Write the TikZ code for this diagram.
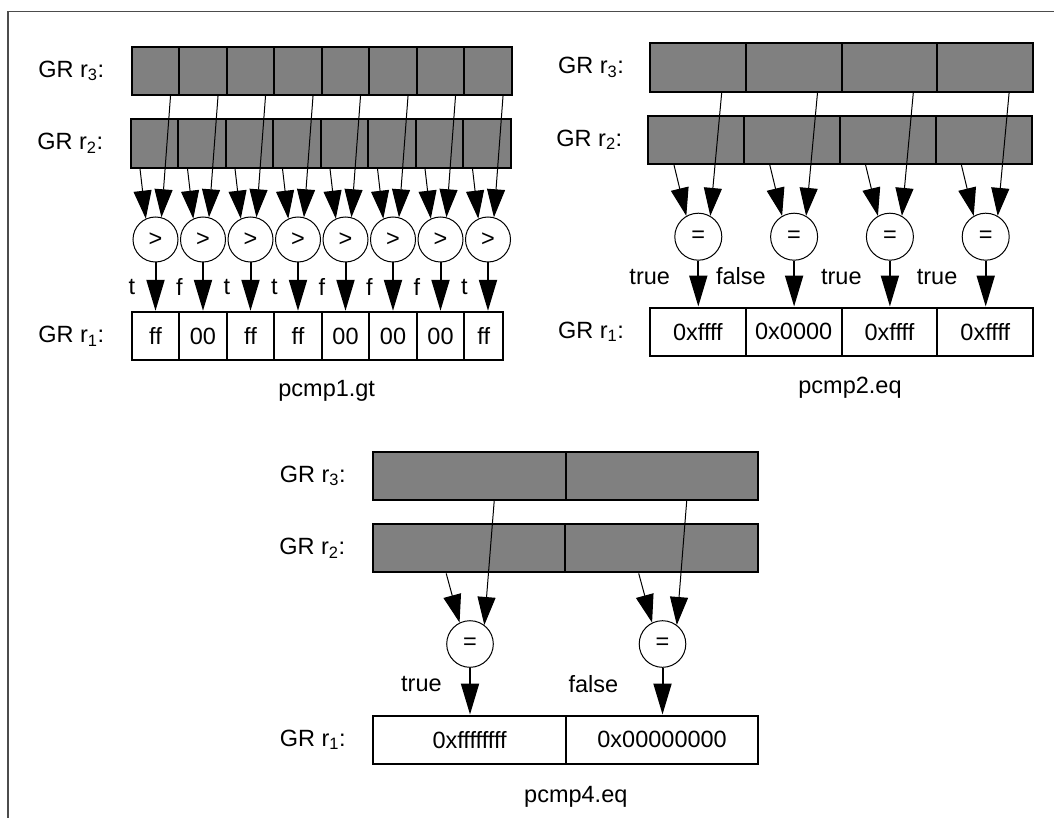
\documentclass[tikz,border=0pt]{standalone}
\usepackage{fontspec}
\setmainfont{Liberation Sans}
\usetikzlibrary{arrows.meta}
\usetikzlibrary{positioning}

\begin{document}
\begin{tikzpicture}[x=1pt, y=-1pt, >={Triangle[length=28pt,width=18pt]}, font=\fontsize{23.5}{28}\selectfont]
    \tikzstyle{reg}=[draw=black,line width=2pt,fill=gray,inner sep=0pt,minimum height=48.4pt]
    \tikzstyle{res}=[reg,fill=white]
    \tikzstyle{cmp}=[circle,draw=black,line width=1pt,fill=white,inner sep=0pt,minimum size=45pt]
    \tikzstyle{lab}=[inner sep=0pt]
    \tikzstyle{feed}=[->,line width=1pt]
    \tikzstyle{wr}=[-{Triangle[length=31pt,width=18pt]},line width=2pt]
    \useasboundingbox (0,0) rectangle (1054,818);
    \draw[black!70,line width=1.5pt] (8,818) -- (8,11.5) -- (1054,11.5);

    % pcmp1.gt
    \begin{scope}[node distance=47.5pt, reg/.append style={minimum width=47.5pt}]
    \node[reg]  (A3_0) at (155.5,71)    {};
    \node[reg]  (A3_1) [right of=A3_0]  {};
    \node[reg]  (A3_2) [right of=A3_1]  {};
    \node[reg]  (A3_3) [right of=A3_2]  {};
    \node[reg]  (A3_4) [right of=A3_3]  {};
    \node[reg]  (A3_5) [right of=A3_4]  {};
    \node[reg]  (A3_6) [right of=A3_5]  {};
    \node[reg]  (A3_7) [right of=A3_6]  {};
    \node[reg]  (A2_0) [below of=A3_0,node distance=72.5pt,xshift=-1pt] {};
    \node[reg]  (A2_1) [right of=A2_0]  {};
    \node[reg]  (A2_2) [right of=A2_1]  {};
    \node[reg]  (A2_3) [right of=A2_2]  {};
    \node[reg]  (A2_4) [right of=A2_3]  {};
    \node[reg]  (A2_5) [right of=A2_4]  {};
    \node[reg]  (A2_6) [right of=A2_5]  {};
    \node[reg]  (A2_7) [right of=A2_6]  {};
    \node[cmp]  (Ac_0) [below of=A2_0,node distance=96pt,xshift=1pt] {>};
    \node[cmp]  (Ac_1) [right of=Ac_0]  {>};
    \node[cmp]  (Ac_2) [right of=Ac_1]  {>};
    \node[cmp]  (Ac_3) [right of=Ac_2]  {>};
    \node[cmp]  (Ac_4) [right of=Ac_3]  {>};
    \node[cmp]  (Ac_5) [right of=Ac_4]  {>};
    \node[cmp]  (Ac_6) [right of=Ac_5]  {>};
    \node[cmp]  (Ac_7) [right of=Ac_6]  {>};
    \node[res]  (A1_0) [below of=Ac_0,node distance=96.5pt] {ff};
    \node[res]  (A1_1) [right of=A1_0]  {00};
    \node[res]  (A1_2) [right of=A1_1]  {ff};
    \node[res]  (A1_3) [right of=A1_2]  {ff};
    \node[res]  (A1_4) [right of=A1_3]  {00};
    \node[res]  (A1_5) [right of=A1_4]  {00};
    \node[res]  (A1_6) [right of=A1_5]  {00};
    \node[res]  (A1_7) [right of=A1_6,node distance=43.25pt,minimum width=39pt] {ff};
    \end{scope}
    \node[lab]  (AL3) [left=26.5pt of A3_0] {GR r\textsubscript{3}:};
    \node[lab]  (AL2) [left=26.5pt of A2_0] {GR r\textsubscript{2}:};
    \node[lab]  (AL1) [left=26.5pt of A1_0] {GR r\textsubscript{1}:};
    \node       (AT) at (326.7,391)         {pcmp1.gt};
    \path
    ([xshift=-14.5pt]A2_0.south) edge[feed] (Ac_0.115)
    ([xshift=15pt]A3_0.south)    edge[feed] (Ac_0.75)
    ([xshift=-14.5pt]A2_1.south) edge[feed] (Ac_1.115)
    ([xshift=15pt]A3_1.south)    edge[feed] (Ac_1.75)
    ([xshift=-14.5pt]A2_2.south) edge[feed] (Ac_2.115)
    ([xshift=15pt]A3_2.south)    edge[feed] (Ac_2.75)
    ([xshift=-14.5pt]A2_3.south) edge[feed] (Ac_3.115)
    ([xshift=15pt]A3_3.south)    edge[feed] (Ac_3.75)
    ([xshift=-14.5pt]A2_4.south) edge[feed] (Ac_4.115)
    ([xshift=15pt]A3_4.south)    edge[feed] (Ac_4.75)
    ([xshift=-14.5pt]A2_5.south) edge[feed] (Ac_5.115)
    ([xshift=15pt]A3_5.south)    edge[feed] (Ac_5.75)
    ([xshift=-14.5pt]A2_6.south) edge[feed] (Ac_6.115)
    ([xshift=15pt]A3_6.south)    edge[feed] (Ac_6.75)
    ([xshift=-14.5pt]A2_7.south) edge[feed] (Ac_7.115)
    ([xshift=15pt]A3_7.south)    edge[feed] (Ac_7.75)
    (Ac_0) edge[wr] node[left=16pt]{t} (Ac_0 |- A1_0.north)
    (Ac_1) edge[wr] node[left=16pt]{f} (Ac_1 |- A1_1.north)
    (Ac_2) edge[wr] node[left=16pt]{t} (Ac_2 |- A1_2.north)
    (Ac_3) edge[wr] node[left=16pt]{t} (Ac_3 |- A1_3.north)
    (Ac_4) edge[wr] node[left=16pt]{f} (Ac_4 |- A1_4.north)
    (Ac_5) edge[wr] node[left=16pt]{f} (Ac_5 |- A1_5.north)
    (Ac_6) edge[wr] node[left=16pt]{f} (Ac_6 |- A1_6.north)
    (Ac_7) edge[wr] node[left=16pt]{t} (Ac_7 |- A1_7.north);

    % pcmp2.eq
    \begin{scope}[node distance=95.8pt, reg/.append style={minimum width=95.8pt}, cmp/.append style={minimum size=47pt}]
    \node[reg]  (B3_0) at (697.9,67.5)  {};
    \node[reg]  (B3_1) [right of=B3_0]  {};
    \node[reg]  (B3_2) [right of=B3_1]  {};
    \node[reg]  (B3_3) [right of=B3_2]  {};
    \node[reg]  (B2_0) [below of=B3_0,node distance=72.3pt,xshift=-1.6pt] {};
    \node[reg]  (B2_1) [right of=B2_0]  {};
    \node[reg]  (B2_2) [right of=B2_1]  {};
    \node[reg]  (B2_3) [right of=B2_2]  {};
    \node[cmp]  (Bc_0) [below of=B2_0,node distance=96.9pt,xshift=2pt] {=};
    \node[cmp]  (Bc_1) [right of=Bc_0]  {=};
    \node[cmp]  (Bc_2) [right of=Bc_1]  {=};
    \node[cmp]  (Bc_3) [right of=Bc_2]  {=};
    \node[res]  (B1_0) [below of=Bc_0,node distance=95pt,xshift=-0.4pt] {0xffff};
    \node[res]  (B1_1) [right of=B1_0]  {0x0000};
    \node[res]  (B1_2) [right of=B1_1]  {0xffff};
    \node[res]  (B1_3) [right of=B1_2]  {0xffff};
    \end{scope}
    \node[lab]  (BL3) [left=25pt of B3_0] {GR r\textsubscript{3}:};
    \node[lab]  (BL2) [left=25pt of B2_0] {GR r\textsubscript{2}:};
    \node[lab]  (BL1) [left=25pt of B1_0] {GR r\textsubscript{1}:};
    \node       (BT) at (850,388)           {pcmp2.eq};
    \path
    ([xshift=-22.3pt]B2_0.south) edge[feed] (Bc_0.120)
    ([xshift=23.8pt]B3_0.south)  edge[feed] (Bc_0.60)
    ([xshift=-22.3pt]B2_1.south) edge[feed] (Bc_1.120)
    ([xshift=23.8pt]B3_1.south)  edge[feed] (Bc_1.60)
    ([xshift=-22.3pt]B2_2.south) edge[feed] (Bc_2.120)
    ([xshift=23.8pt]B3_2.south)  edge[feed] (Bc_2.60)
    ([xshift=-22.3pt]B2_3.south) edge[feed] (Bc_3.120)
    ([xshift=23.8pt]B3_3.south)  edge[feed] (Bc_3.60)
    (Bc_0) edge[wr] node[left=24pt,yshift=7pt]{true}  (Bc_0 |- B1_0.north)
    (Bc_1) edge[wr] node[left=24pt,yshift=7pt]{false} (Bc_1 |- B1_1.north)
    (Bc_2) edge[wr] node[left=24pt,yshift=7pt]{true}  (Bc_2 |- B1_2.north)
    (Bc_3) edge[wr] node[left=24pt,yshift=7pt]{true}  (Bc_3 |- B1_3.north);

    % pcmp4.eq
    \begin{scope}[node distance=192.5pt, reg/.append style={minimum width=192.5pt}, cmp/.append style={minimum size=46.6pt}]
    \node[reg]  (C3_0) at (469.6,475.8) {};
    \node[reg]  (C3_1) [right of=C3_0]  {};
    \node[reg]  (C2_0) [below of=C3_0,node distance=72.4pt,xshift=-0.6pt] {};
    \node[reg]  (C2_1) [right of=C2_0]  {};
    \node[cmp]  (Cc_0) [below of=C2_0,node distance=95.8pt,xshift=1pt] {=};
    \node[cmp]  (Cc_1) [right of=Cc_0]  {=};
    \node[res]  (C1_0) [below of=Cc_0,node distance=95.7pt,xshift=-0.4pt] {0xffffffff};
    \node[res]  (C1_1) [right of=C1_0]  {0x00000000};
    \end{scope}
    \node[lab]  (CL3) [left=26.5pt of C3_0] {GR r\textsubscript{3}:};
    \node[lab]  (CL2) [left=26.5pt of C2_0] {GR r\textsubscript{2}:};
    \node[lab]  (CL1) [left=26.5pt of C1_0] {GR r\textsubscript{1}:};
    \node       (CT) at (575.8,796.5)       {pcmp4.eq};
    \path
    ([xshift=-22.8pt]C2_0.south) edge[feed] (Cc_0.116)
    ([xshift=24.6pt]C3_0.south)  edge[feed] (Cc_0.53)
    ([xshift=-22.8pt]C2_1.south) edge[feed] (Cc_1.116)
    ([xshift=24.6pt]C3_1.south)  edge[feed] (Cc_1.53)
    (Cc_0) edge[wr] node[left=24pt,yshift=7pt]{true}  (Cc_0 |- C1_0.north)
    (Cc_1) edge[wr] node[left=40pt,yshift=7pt]{false} (Cc_1 |- C1_1.north);
\end{tikzpicture}
\end{document}
